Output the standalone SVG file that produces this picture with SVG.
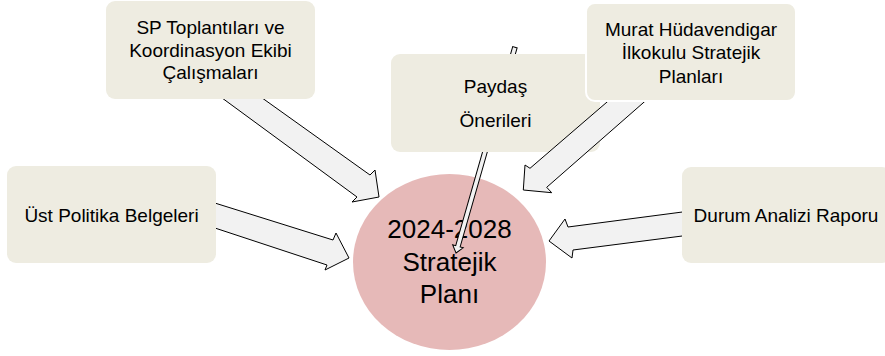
<svg xmlns="http://www.w3.org/2000/svg" width="885" height="356" viewBox="0 0 885 356">
<style>
.box{fill:#eeece1;}
.box-w{fill:#eeece1;stroke:#ffffff;stroke-width:2;}
.arrow{fill:#f2f2f2;stroke:#000000;stroke-width:1;stroke-linejoin:miter;}
.t{font-family:"Liberation Sans",Arial,sans-serif;font-size:19px;fill:#000000;text-anchor:middle;}
.ct{font-family:"Liberation Sans",Arial,sans-serif;font-size:26px;fill:#000000;text-anchor:middle;}
</style>
<defs>
<mask id="behindPaydas" maskUnits="userSpaceOnUse" x="0" y="0" width="885" height="356">
<rect x="0" y="0" width="885" height="356" fill="#ffffff"/>
<rect x="391" y="54" width="209" height="98" rx="9" fill="#000000"/>
</mask>
</defs>
<rect x="0" y="0" width="885" height="356" fill="#ffffff"/>
<g id="plan">
<ellipse cx="449.5" cy="262" rx="96.5" ry="88" fill="#e6b9b8"/>
<text class="ct" x="449.5" y="238">2024-2028</text>
<text class="ct" x="449.5" y="271">Stratejik</text>
<text class="ct" x="449.5" y="303">Planı</text>
</g>
<g id="paydas">
<rect class="box" x="391" y="54" width="209" height="98" rx="9"/>
<text class="t" x="495.5" y="93">Paydaş</text>
<text class="t" x="495.5" y="126.5">Önerileri</text>
</g>
<g id="connectors">
<polygon class="arrow" points="218,95 357,197 352,202 379,197 375,170 370,175 258,95"/>
<polygon class="arrow" points="210,201.5 333,240 336,233 349,258 325,270 327,265 210,226.4"/>
<polygon class="arrow" points="690,211 568,227 565,219 549,241 572,258 573,250 690,235"/>
<polygon class="arrow" points="614,96 530,168.3 525,165 523.3,190 551.7,192.7 546.7,187.3 651,96"/>
<g mask="url(#behindPaydas)">
<polygon class="arrow" transform="translate(456,253) rotate(105.98)" points="0,0 -7,-5.5 -7,-2.3 -214,-2.3 -214,2.3 -7,2.3 -7,5.5"/>
</g>
</g>
<g id="sp">
<rect class="box" x="106" y="1" width="209" height="98" rx="9"/>
<text class="t" x="210.5" y="34">SP Toplantıları ve</text>
<text class="t" x="210.5" y="57">Koordinasyon Ekibi</text>
<text class="t" x="210.5" y="79">Çalışmaları</text>
</g>
<g id="ust">
<rect class="box" x="7" y="166" width="209" height="97" rx="9"/>
<text class="t" x="111.5" y="221.5">Üst Politika Belgeleri</text>
</g>
<g id="durum">
<rect class="box" x="682" y="167" width="209" height="96" rx="9"/>
<text class="t" x="786" y="221.5">Durum Analizi Raporu</text>
</g>
<g id="murat">
<rect class="box-w" x="586" y="3" width="210" height="98" rx="9"/>
<text class="t" x="691" y="36">Murat Hüdavendigar</text>
<text class="t" x="691" y="59">İlkokulu Stratejik</text>
<text class="t" x="691" y="83">Planları</text>
</g>
</svg>
